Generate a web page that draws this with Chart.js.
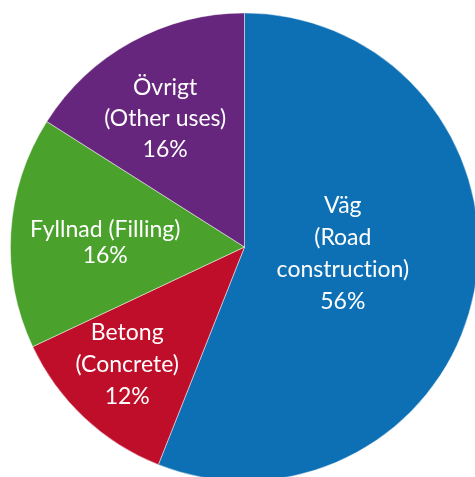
<!DOCTYPE html>
<html>
<head>
<meta charset="utf-8">
<script src="https://cdn.jsdelivr.net/npm/chart.js@4/dist/chart.umd.min.js"></script>
<style>
html,body{margin:0;padding:0;background:#fff;overflow:hidden;width:475px;height:477px;}
canvas{display:block;}
</style>
</head>
<body>
<canvas id="c" width="489" height="494"></canvas>
<script>
// Data
const categories = ["Väg (Road construction)", "Betong (Concrete)", "Fyllnad (Filling)", "Övrigt (Other uses)"];
const labelLines = [
  ["Väg", "(Road", "construct\u200Cion)"],
  ["Betong", "(Concrete)"],
  ["Fyllnad (Filling)"],
  ["Övrigt", "(Other uses)"]
];
const shares = [56, 12, 16, 16];

// Styles
const colors = ["#0e70b4", "#bf0e29", "#4aa22c", "#66267d"];
const labelOffsets = [[0.42, 0.03], [-0.501, 0.503], [-0.595, -0.017], [-0.339, -0.55]];
const lineSpacing = [32, 32, 26, 31];

const labelPlugin = {
  id: 'sliceLabels',
  afterDatasetsDraw(chart) {
    const ctx = chart.ctx;
    const meta = chart.getDatasetMeta(0);
    ctx.save();
    ctx.fillStyle = '#ffffff';
    ctx.font = '23px Lato, "Open Sans", sans-serif';
    ctx.textAlign = 'center';
    ctx.textBaseline = 'middle';
    meta.data.forEach((arc, i) => {
      const r = arc.outerRadius;
      const cx = arc.x + labelOffsets[i][0] * r;
      const cy = arc.y + labelOffsets[i][1] * r;
      const lines = labelLines[i].concat([shares[i] + '%']);
      const sp = lineSpacing[i];
      const y0 = cy - (lines.length - 1) * sp / 2;
      lines.forEach((t, k) => ctx.fillText(t, cx, y0 + k * sp));
    });
    ctx.restore();
  }
};

new Chart(document.getElementById('c'), {
  type: 'pie',
  data: {
    labels: categories,
    datasets: [{
      data: shares,
      backgroundColor: colors,
      borderColor: 'rgba(255,255,255,0.6)',
      borderWidth: 0.8
    }]
  },
  options: {
    responsive: false,
    animation: false,
    layout: { padding: 10 },
    plugins: { legend: { display: false }, tooltip: { enabled: false } }
  },
  plugins: [labelPlugin]
});
</script>
</body>
</html>
